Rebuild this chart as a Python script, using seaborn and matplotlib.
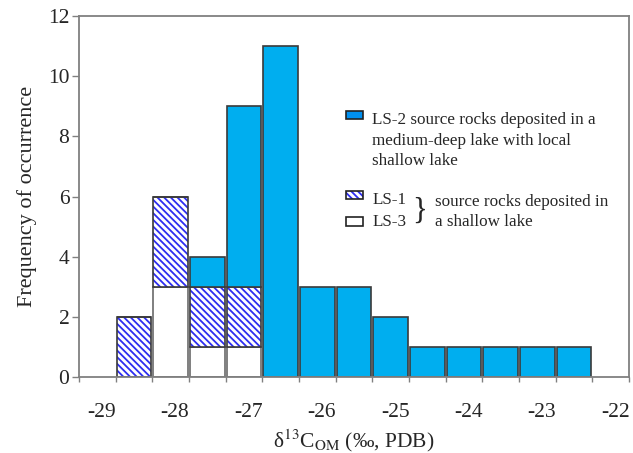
import numpy as np
import pandas as pd
import matplotlib
matplotlib.use("Agg")
import matplotlib.pyplot as plt
import matplotlib.colors as mcolors
from matplotlib.patches import Rectangle
import seaborn as sns

# ---- data (counts per 0.5 per-mil bin) ----
bin_left = [-29.0, -28.5, -28.0, -27.5, -27.0, -26.5, -26.0, -25.5, -25.0, -24.5, -24.0, -23.5, -23.0]
ls3_counts = [0, 3, 1, 1, 0, 0, 0, 0, 0, 0, 0, 0, 0]
ls1_counts = [2, 3, 2, 2, 0, 0, 0, 0, 0, 0, 0, 0, 0]
ls2_counts = [0, 0, 1, 6, 11, 3, 3, 2, 1, 1, 1, 1, 1]
x_tick_values = [-29, -28, -27, -26, -25, -24, -23, -22]
x_tick_labels = ["-29", "-28", "-27", "-26", "-25", "-24", "-23", "-22"]
y_ticks = [0, 2, 4, 6, 8, 10, 12]
bin_width = 0.5
label_offset = -0.19

C_LS2 = "#00AEEF"
C_HATCH = "#2E2EF0"
C_EDGE = "#3a3a3a"
C_AX = "#808080"
HATCH = "\\\\\\\\\\"

sns.set_style("ticks")
plt.rcParams["font.family"] = ["Liberation Serif", "DejaVu Serif"]
plt.rcParams["mathtext.fontset"] = "stix"
plt.rcParams["hatch.linewidth"] = 1.3

rows = []
for grp, counts in (("LS-2", ls2_counts), ("LS-1", ls1_counts), ("LS-3", ls3_counts)):
    for left, c in zip(bin_left, counts):
        rows.append({"x": left + bin_width / 2, "count": c, "group": grp})
df = pd.DataFrame(rows)

edges = list(np.array(bin_left)) + [bin_left[-1] + bin_width]

fig = plt.figure(figsize=(6.33, 4.53), dpi=100)
ax = fig.add_axes([79 / 633, 1 - 377 / 453, 550 / 633, 361 / 453])

palette = {"LS-2": C_LS2, "LS-1": "#0000FE", "LS-3": "#FEFEFE"}
sns.histplot(data=df, x="x", weights="count", hue="group",
             hue_order=["LS-2", "LS-1", "LS-3"], bins=edges,
             multiple="stack", shrink=0.94, palette=palette, alpha=1,
             edgecolor=C_EDGE, linewidth=1.2, legend=False, ax=ax)

hatch_rgba = mcolors.to_rgba(C_HATCH)
for p in list(ax.patches):
    fc = mcolors.to_hex(p.get_facecolor())
    if fc == "#0000fe":
        p.set_facecolor("white")
        p.set_hatch(HATCH)
        p.set_edgecolor(C_EDGE)
        p._hatch_color = hatch_rgba
    elif fc == "#fefefe":
        p.set_facecolor("white")
        p.set_edgecolor("#6a6a6a")

ax.set_xlim(-29.5, -22.0)
ax.set_ylim(0, 12)
ax.set_yticks(y_ticks)
ax.set_yticklabels([str(v) for v in y_ticks], fontsize=15.5)
ax.set_xticks(np.array(x_tick_values) + label_offset)
ax.set_xticklabels(x_tick_labels, fontsize=15.5)
ax.set_xticks(np.arange(-29.5, -21.9, 0.5), minor=True)
ax.tick_params(axis="x", which="major", length=0, pad=19)
ax.tick_params(axis="x", which="minor", length=3.5, width=1, color=C_AX, direction="out")
ax.tick_params(axis="y", which="major", length=5, width=1, color=C_AX, direction="out", pad=2)
for s in ax.spines.values():
    s.set_color(C_AX)
    s.set_linewidth(1.3)

ax.set_ylabel("Frequency of occurrence", fontsize=16, labelpad=8)
ax.set_xlabel("δ$^{13}$C$_{\\rm OM}$ (‰, PDB)", fontsize=15.5, labelpad=4)

# ---- custom legend ----
tr = ax.transAxes
fs = 12.3
ax.add_patch(Rectangle((0.485, 0.715), 0.031, 0.022, transform=tr, facecolor="#0090F0",
                       edgecolor="#222222", lw=1.2, clip_on=False))
ax.text(0.533, 0.712, "LS-2 source rocks deposited in a", transform=tr, fontsize=fs, va="center")
ax.text(0.533, 0.655, "medium-deep lake with local", transform=tr, fontsize=fs, va="center")
ax.text(0.533, 0.597, "shallow lake", transform=tr, fontsize=fs, va="center")

r1 = Rectangle((0.485, 0.493), 0.031, 0.022, transform=tr, facecolor="white",
               edgecolor="#222222", lw=1.2, hatch=HATCH, clip_on=False)
r1._hatch_color = hatch_rgba
ax.add_patch(r1)
ax.text(0.533, 0.490, "LS-1", transform=tr, fontsize=fs, va="center")
ax.add_patch(Rectangle((0.485, 0.418), 0.031, 0.024, transform=tr, facecolor="white",
                       edgecolor="#222222", lw=1.2, clip_on=False))
ax.text(0.533, 0.428, "LS-3", transform=tr, fontsize=fs, va="center")
ax.text(0.606, 0.458, "}", transform=tr, fontsize=22, va="center", ha="left")
ax.text(0.647, 0.485, "source rocks deposited in", transform=tr, fontsize=fs, va="center")
ax.text(0.647, 0.430, "a shallow lake", transform=tr, fontsize=fs, va="center")

fig.savefig("out.png", dpi=100)
